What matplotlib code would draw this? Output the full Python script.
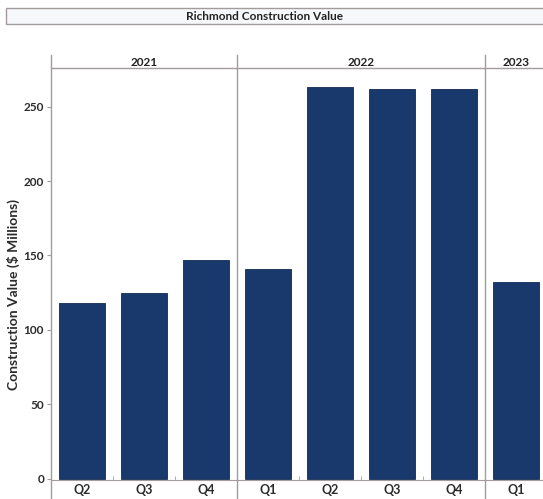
import matplotlib
matplotlib.use("Agg")
import matplotlib.pyplot as plt
from matplotlib.patches import Rectangle
from matplotlib.lines import Line2D

# data
years = ["2021", "2022", "2023"]
quarters = [["Q2", "Q3", "Q4"], ["Q1", "Q2", "Q3", "Q4"], ["Q1"]]
values = [[118, 125, 147], [141, 263, 262, 262], [132]]
yticks = [0, 50, 100, 150, 200, 250]

W, H = 543, 499
bar_color = "#19386b"
line_color = "#a39c9c"
font = ["Lato", "DejaVu Sans"]
plt.rcParams["font.family"] = font


def fx(px):
    return px / W


def fy(py):
    return 1 - py / H


fig = plt.figure(figsize=(W / 100, H / 100), dpi=100)

# pixel layout of the panels
panel_left = [51, 237, 485]
panel_width = [186, 248, 62]
ax_top, ax_bot = 68, 480

axes = []
for i, (yr, qs, vals) in enumerate(zip(years, quarters, values)):
    ax = fig.add_axes([fx(panel_left[i]), fy(ax_bot), fx(panel_width[i]), (ax_bot - ax_top) / H])
    x = list(range(len(qs)))
    ax.bar(x, vals, width=0.74, color=bar_color, edgecolor="#122a52", linewidth=0.6)
    ax.set_xlim(-0.5, len(qs) - 0.5)
    ax.set_ylim(-1, 276)
    ax.set_xticks(x)
    ax.set_xticklabels(qs, fontsize=9, fontweight="bold", color="#2b2b2b")
    ax.tick_params(axis="x", length=0, pad=3)
    for s in ["top", "right", "left"]:
        ax.spines[s].set_visible(False)
    ax.spines["bottom"].set_color(line_color)
    ax.spines["bottom"].set_linewidth(0.8)
    if i == 0:
        ax.set_yticks(yticks)
        ax.set_yticklabels([str(t) for t in yticks], fontsize=8.5, fontweight="bold", color="#2b2b2b")
        ax.tick_params(axis="y", length=3, color=line_color, pad=2)
        ax.set_ylabel("Construction Value ($ Millions)", fontsize=10, fontweight="bold",
                      color="#2b2b2b", labelpad=2)
    else:
        ax.set_yticks([])
    # minor ticks between categories on the bottom axis
    ax.set_xticks([k + 0.5 for k in x[:-1]], minor=True)
    ax.tick_params(axis="x", which="minor", length=3, color=line_color, direction="in")
    ax.patch.set_alpha(0)
    axes.append(ax)
    # year header
    fig.text(fx(panel_left[i] + panel_width[i] / 2), fy(62), yr, ha="center", va="center",
             fontsize=8.5, fontweight="bold", color="#222222")

axes[0].yaxis.set_label_coords(-0.165, 0.45)

# panel dividers and header line
for px in panel_left:
    fig.add_artist(Line2D([fx(px), fx(px)], [fy(55), 0], color=line_color, lw=1.0))
fig.add_artist(Line2D([fx(51), 1], [fy(68), fy(68)], color=line_color, lw=1.0))

# title box
fig.add_artist(Rectangle((fx(6), fy(24)), 1, (24 - 8) / H, transform=fig.transFigure,
                         facecolor="#f6f8fb", edgecolor=line_color, lw=1.0))
fig.text(fx(265), fy(17), "Richmond Construction Value", ha="center", va="center",
         fontsize=8.5, fontweight="bold", color="#222222")

fig.savefig("out.png", dpi=100)
